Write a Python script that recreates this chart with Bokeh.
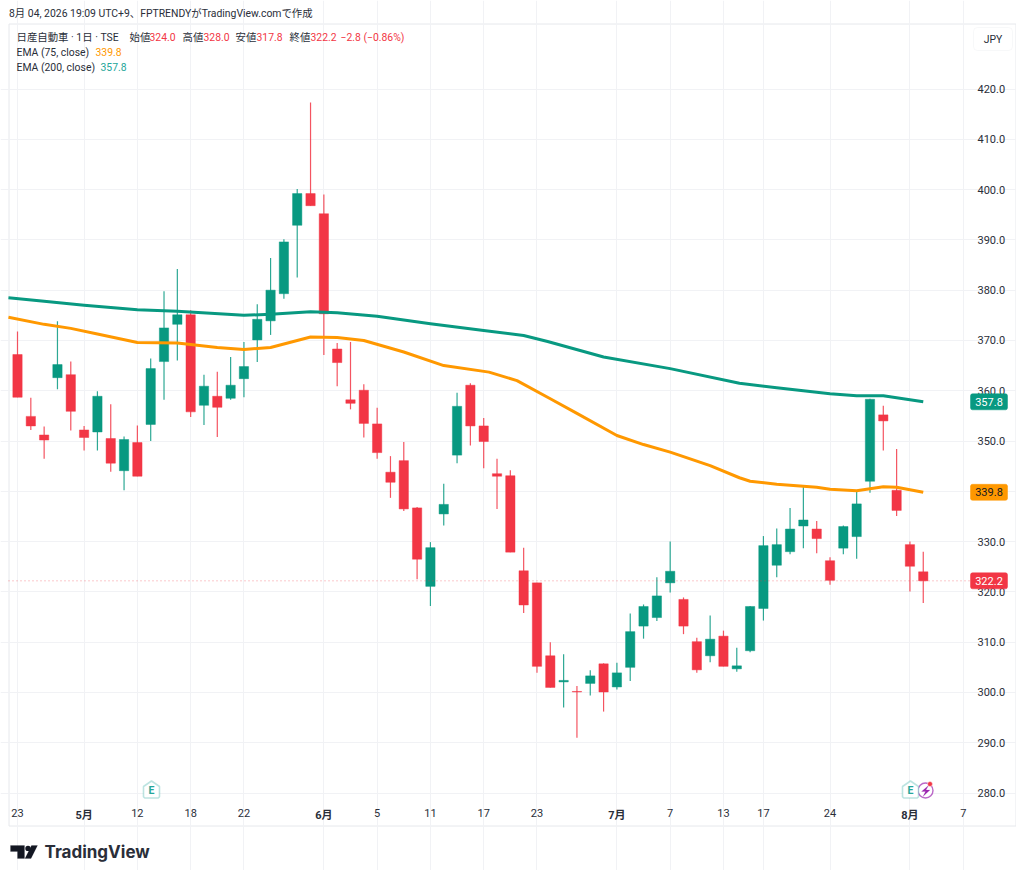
from bokeh.plotting import figure
from bokeh.embed import file_html
from bokeh.resources import INLINE
from bokeh.models import (Range1d, LinearAxis, FixedTicker, Label, BoxAnnotation, PolyAnnotation,
                          NumeralTickFormatter, ColumnDataSource)

# ---------- data ----------
opens = [367.2,354.9,351.2,362.6,363.2,352.2,351.8,350.5,344.1,349.7,353.3,365.8,373.2,375.1,357.1,358.9,358.5,362.4,370.1,373.9,
         379.3,392.9,399.2,395.2,368.3,358.2,360.1,353.4,343.8,346.1,336.7,321.1,335.5,347.2,361.1,353.0,343.5,343.1,324.2,321.8,
         307.3,302.1,300.2,301.8,305.7,301.1,305.0,313.2,314.9,321.8,318.5,310.1,307.3,311.2,304.7,308.3,316.7,325.3,328.0,333.1,
         332.5,326.2,328.7,331.0,342.0,355.2,340.2,329.4,324.0]
highs = [371.8,358.6,352.9,373.8,365.8,353.0,359.9,357.3,350.9,353.1,366.4,379.8,384.2,376.0,363.2,363.8,366.7,369.7,377.2,386.4,
         390.1,400.1,417.3,399.0,369.5,369.7,361.3,356.6,347.0,349.8,336.9,329.9,341.5,359.6,361.5,354.6,346.5,344.2,328.8,321.8,
         310.0,307.6,301.3,304.4,305.8,305.9,315.7,317.5,322.9,330.0,318.9,310.9,315.3,312.3,308.9,317.2,331.1,332.6,336.7,341.0,
         334.1,326.9,333.2,340.2,358.4,357.0,348.4,330.0,328.0]
lows = [358.7,352.2,346.5,360.3,352.1,348.1,348.1,343.9,340.2,343.0,350.0,358.2,366.0,354.8,353.2,350.8,358.2,358.7,365.7,371.1,
        378.3,382.5,396.8,367.1,360.9,356.3,350.7,346.5,338.7,336.1,322.5,317.2,333.2,345.6,349.1,344.6,336.5,327.9,315.8,303.9,
        301.0,297.0,291.0,299.4,296.2,300.6,302.3,310.7,314.2,319.9,311.6,303.9,306.0,305.2,304.1,308.0,314.3,322.9,327.5,328.7,
        327.7,321.4,327.5,326.6,339.7,348.1,335.1,320.1,317.8]
closes = [358.7,353.0,350.2,365.2,355.9,350.7,358.9,345.6,350.3,343.0,364.4,372.5,375.1,355.8,360.9,356.7,361.1,364.8,374.2,380.0,
          389.6,399.2,396.8,375.3,365.6,357.5,353.5,347.7,341.8,336.5,326.5,328.8,337.4,356.9,353.0,349.9,343.0,327.9,317.4,305.2,
          301.0,302.4,300.1,303.3,300.1,303.9,312.1,317.1,319.2,324.1,313.2,304.5,310.6,305.2,305.3,317.1,329.2,329.4,332.5,334.3,
          330.6,322.3,333.0,337.5,358.3,354.0,336.2,325.1,322.2]

ema75_idx = [-0.68,2,4,6,9,12,15,17,19,22,24,26,29,32,35.4,37.5,40,42,45,47,49,52,54.2,55,57,60,61,63,65,66,68]
ema75_val = [374.6,373.2,372.4,371.3,369.6,369.5,368.6,368.2,368.6,370.7,370.6,370.0,367.7,365.0,363.7,362.0,358.4,355.5,351.1,349.3,347.8,
             345.1,342.7,342.0,341.4,340.8,340.4,340.1,340.9,340.8,339.8]
ema200_idx = [-0.68,2,5,9,12,17,19,22,24,27,31,35,38,39.8,44,49,54.2,57,61,63,65,68]
ema200_val = [378.5,377.8,377.0,376.1,375.8,375.0,375.2,375.7,375.5,374.8,373.3,372.0,371.0,369.8,366.7,364.4,361.5,360.6,359.4,
              359.0,359.0,357.8]

price_ticks = [280,290,300,310,320,330,340,350,360,370,380,390,400,410,420]
day_ticks = [0,9,13,17,27,31,35,39,49,53,56,61,71]
day_labels = ["23","12","18","22","5","11","17","23","7","13","17","24","7"]
month_ticks = [5,23,45,67]
month_labels = ["5月","6月","7月","8月"]

GREEN, RED, ORANGE = "#089981", "#F23645", "#FF9800"
GRID, EDGE, TEXT = "#F1F2F5", "#E6E8EC", "#2A2E39"
FONT = "Roboto, 'Noto Sans CJK JP'"

# ---------- page-pixel layout (decoration placement only) ----------
W, H = 1016, 870
FL, FR, FT, FB = 8, 963, 23, 800
X0, XU = 17.0, 13.32
Y420, YU = 88.5, 5.029
def px(x): return (x - X0) / XU
def py(y): return 420 - (y - Y420) / YU

p = figure(width=W, height=H, output_backend="svg", toolbar_location=None,
           x_range=Range1d(px(0), px(W)), y_range=Range1d(py(H), py(0)),
           min_border_left=0, min_border_right=0, min_border_top=0, min_border_bottom=0,
           x_axis_location=None, y_axis_location=None, outline_line_color=None,
           background_fill_color="white", border_fill_color="white")

# ---------- axes and grid ----------
ax_r = LinearAxis(ticker=FixedTicker(ticks=price_ticks), formatter=NumeralTickFormatter(format="0.0"),
                  fixed_location=px(FR), bounds=(py(FB), py(FT)),
                  axis_line_color=GRID, major_tick_line_color=GRID, minor_tick_line_color=None,
                  major_tick_out=7, major_tick_in=0, major_label_standoff=7,
                  major_label_text_font=FONT, major_label_text_font_size="11px", major_label_text_color=TEXT)
p.add_layout(ax_r, "right")
for ticks, labels, style in [(day_ticks, day_labels, "normal"), (month_ticks, month_labels, "bold")]:
    p.add_layout(LinearAxis(ticker=FixedTicker(ticks=ticks), major_label_overrides=dict(zip(ticks, labels)),
                            fixed_location=py(FB),
                            axis_line_color=None, major_tick_line_color=None, minor_tick_line_color=None,
                            major_tick_out=0, major_tick_in=0, major_label_standoff=8,
                            major_label_text_font=FONT, major_label_text_font_size="11px",
                            major_label_text_font_style=style, major_label_text_color=TEXT), "below")
p.xgrid.ticker = FixedTicker(ticks=sorted(day_ticks + month_ticks))
p.ygrid.ticker = FixedTicker(ticks=price_ticks)
p.xgrid.bounds = (py(FB), py(FT))
p.ygrid.bounds = (px(FL), px(FR))
p.xgrid.grid_line_color = GRID
p.ygrid.grid_line_color = GRID

def box(l, r, t, b, **kw):
    p.add_layout(BoxAnnotation(left=l, right=r, top=t, bottom=b, left_units="canvas", right_units="canvas",
                               top_units="canvas", bottom_units="canvas", **kw))
def poly(xs, ys, **kw):
    p.add_layout(PolyAnnotation(xs=list(xs), ys=list(ys), xs_units="canvas", ys_units="canvas", **kw))
def label(x, y, text, color=TEXT, size="10.4px", align="left", style="normal", font=FONT):
    p.add_layout(Label(x=x, y=y, x_units="canvas", y_units="canvas", text=text, text_color=color, text_font_size=size,
                       text_align=align, text_baseline="middle", text_font=font, text_font_style=style))

# ---------- outer frame ----------
frame_x = [8.5, 1015.5, 1015.5, 8.5, 8.5]
frame_y = [23.5, 23.5, 825.5, 825.5, 23.5]
p.line([px(v) for v in frame_x], [py(v) for v in frame_y], line_color=EDGE, line_width=1, level="underlay")

# ---------- candles ----------
idx = list(range(len(opens)))
colors = [GREEN if c > o else RED for o, c in zip(opens, closes)]
src = ColumnDataSource(dict(x=idx, o=opens, h=highs, l=lows, c=closes, col=colors))
p.segment("x", "h", "x", "l", source=src, line_color="col", line_width=1.2, line_alpha=0.85)
p.vbar("x", 0.70, "o", "c", source=src, fill_color="col", line_color="col", line_alpha=0.45, line_width=1)

# ---------- EMA lines ----------
p.line(ema200_idx, ema200_val, line_color=GREEN, line_width=3, line_join="round")
p.line(ema75_idx, ema75_val, line_color=ORANGE, line_width=3, line_join="round")

# ---------- last price dotted line ----------
p.segment([px(FL)], [closes[-1]], [px(970)], [closes[-1]], line_color=RED, line_alpha=0.55, line_dash="1 3", line_width=1)

# ---------- price tags ----------
def tag(val, fill, tcolor):
    p.add_layout(BoxAnnotation(left=px(970), right=px(1007), top=val + 8 / YU, bottom=val - 8 / YU,
                               fill_color=fill, fill_alpha=1, line_color=fill, line_alpha=0.5, border_radius=2))
    p.add_layout(Label(x=px(988.5), y=val, text=f"{val:.1f}", text_color=tcolor, text_font_size="11px",
                       text_align="center", text_baseline="middle", text_font=FONT))
tag(ema200_val[-1], GREEN, "white")
tag(ema75_val[-1], ORANGE, "#131722")
tag(closes[-1], RED, "white")

# ---------- JPY button ----------
box(973, 1012, 27, 50, fill_color="white", fill_alpha=1, line_color=EDGE, line_width=1, border_radius=4)
label(992.5, 39, "JPY", align="center")

# ---------- header texts ----------
label(8.5, 12.5, "8月 04, 2026 19:09 UTC+9、FPTRENDYがTradingView.comで作成")
label(16, 36.5, "日産自動車 · 1日 · TSE")
for x0, name, x1, v in [(129, "始値", 149, opens[-1]), (182, "高値", 203, highs[-1]),
                        (235, "安値", 256, lows[-1]), (289, "終値", 310, closes[-1])]:
    label(x0, 36.5, name)
    label(x1, 36.5, f"{v:.1f}", color=RED)
label(340, 36.5, "−2.8 (−0.86%)", color=RED)
label(16, 51.5, "EMA (75, close)")
label(95, 51.5, f"{ema75_val[-1]:.1f}", color=ORANGE)
label(16, 66.5, "EMA (200, close)")
label(100, 66.5, f"{ema200_val[-1]:.1f}", color="#26A69A")

# ---------- earnings and dividend icons ----------
def house(cx):
    poly([cx-8, cx, cx+8, cx+8, cx+6.8, cx-6.8, cx-8], [786, 780.5, 786, 796.2, 797.5, 797.5, 796.2],
         fill_color="white", fill_alpha=1, line_color="#26A69A", line_width=1.6)
    label(cx, 790, "E", color="#26A69A", size="10.5px", align="center", style="bold")
house(151)
house(910)
p.scatter([px(925)], [py(790)], size=15, marker="circle", fill_color="white", line_color="#BA68C8", line_width=1.4)
poly((928,921,925,922.5,929.5,925.5), (785,791,791,796,789.5,789.5), fill_color="#9C27B0", fill_alpha=1,
     line_color="#9C27B0", line_width=0.5)
p.scatter([px(929.5)], [py(783.5)], size=5, marker="circle", fill_color="#F23645", line_color="white", line_width=0.5)

# ---------- TradingView logo ----------
LOGO = "#131722"
poly((10,24,24,17,17,10), (845,845,858,858,851,851), fill_color=LOGO, fill_alpha=1, line_color=LOGO, line_width=0.5)
poly((31,37,30.5,24.5), (845,845,858,858), fill_color=LOGO, fill_alpha=1, line_color=LOGO, line_width=0.5)
box(24.8, 30.2, 845.2, 850.6, fill_color=LOGO, fill_alpha=1, line_color=None, border_radius=3)
label(44, 851.5, "TradingView", size="17px", style="bold", font="Inter")

open("out.html", "w").write(file_html(p, INLINE))
